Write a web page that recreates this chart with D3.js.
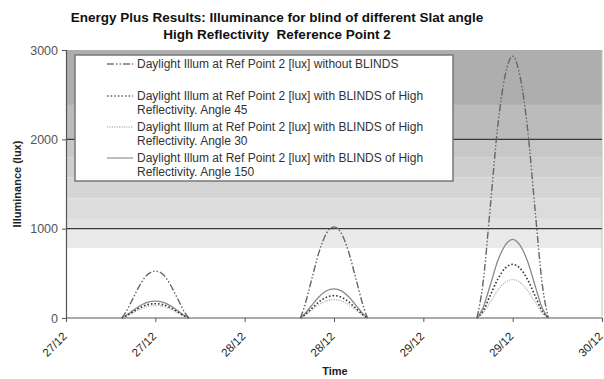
<!DOCTYPE html>
<html>
<head>
<meta charset="utf-8">
<script src="https://cdn.jsdelivr.net/npm/d3@7"></script>
<style>
    body { margin: 0; background: #fff; }
    svg { display: block; font-family: "Liberation Sans", Arial, sans-serif; }
    .tick-label { fill: #333; }
    .legend-label { font-size: 12px; fill: #333; }
</style>
</head>
<body>
<div id="dataChart"></div>
<script>
// day start dates and the hours each day's readings are plotted at
const days = ['2023-12-27', '2023-12-28', '2023-12-29']
const dayHours = [
    [7.5, 8, 9, 10, 11, 12, 13, 14, 15, 16, 16.5],
    [7.5, 8, 9, 10, 11, 12, 13, 14, 15, 16, 16.5],
    [7.2, 8, 9, 10, 11, 12, 13, 14, 15, 16, 16.8],
]

// illuminance [lux] per day
const withoutBlinds = [
    [0, 60, 220, 380, 490, 525, 490, 375, 215, 55, 0],
    [0, 120, 430, 740, 950, 1020, 945, 730, 420, 115, 0],
    [0, 380, 1250, 2150, 2720, 2930, 2700, 2120, 1220, 360, 0],
]
const angle45 = [
    [0, 20, 70, 118, 150, 160, 150, 116, 68, 18, 0],
    [0, 30, 105, 182, 233, 250, 232, 180, 103, 28, 0],
    [0, 75, 255, 435, 558, 600, 555, 432, 250, 72, 0],
]
const angle30 = [
    [0, 18, 60, 102, 130, 140, 131, 100, 58, 16, 0],
    [0, 25, 88, 150, 192, 206, 191, 148, 86, 24, 0],
    [0, 55, 180, 312, 400, 430, 398, 308, 178, 52, 0],
]
const angle150 = [
    [0, 25, 85, 140, 178, 190, 178, 138, 82, 22, 0],
    [0, 40, 140, 238, 305, 326, 303, 235, 136, 38, 0],
    [0, 110, 370, 640, 815, 880, 812, 635, 365, 105, 0],
]

const yTicks = [0, 1000, 2000, 3000]

// gradient fill bands of the plot area (upper edge, lux), white below the last one
const bandTops = [3000, 2385, 2000, 1800, 1575, 1340, 1110, 1000, 780]
const bandColours = ['#aeaeae', '#bbbbbb', '#c7c7c7', '#cecece', '#d5d5d5', '#dcdcdc', '#e2e2e2', '#eaeaea', '#ffffff']

document.addEventListener('DOMContentLoaded', () => {
    draw()
});

function draw() {
    const viewBoxWidth = 604
    const viewBoxHeight = 379
    const left = 66
    const right = 602
    const top = 50
    const bottom = 318

    const svg = d3.select('#dataChart')
        .append('svg')
        .attr('width', viewBoxWidth)
        .attr('height', viewBoxHeight)

    const x = d3.scaleUtc()
        .domain([new Date(Date.UTC(2023, 11, 27)), new Date(Date.UTC(2023, 11, 30))])
        .range([left, right])
    const y = d3.scaleLinear()
        .domain([0, 3000])
        .range([bottom, top])

    // background bands
    svg.append('g')
        .selectAll('rect')
        .data(bandTops)
        .enter()
        .append('rect')
        .attr('x', left)
        .attr('width', right - left)
        .attr('y', d => y(d))
        .attr('height', (d, i) => y(i + 1 < bandTops.length ? bandTops[i + 1] : 0) - y(d))
        .attr('fill', (d, i) => bandColours[i])
    svg.append('line')
        .attr('x1', right).attr('x2', right)
        .attr('y1', top).attr('y2', bottom)
        .attr('stroke', '#c4c4c4')

    // gridlines
    svg.append('g')
        .selectAll('line')
        .data([1000, 2000])
        .enter()
        .append('line')
        .attr('x1', left).attr('x2', right)
        .attr('y1', d => y(d)).attr('y2', d => y(d))
        .attr('stroke', '#3a3a3a')
        .attr('stroke-width', 1.2)

    // series
    const series = [
        { name: 'Daylight Illum at Ref Point 2 [lux] without BLINDS', values: withoutBlinds, colour: '#666', legendColour: '#777', dash: '7,2,1.5,2,1.5,2', width: 1.4 },
        { name: 'Daylight Illum at Ref Point 2 [lux] with BLINDS of High|Reflectivity. Angle 45', values: angle45, colour: '#3a3a3a', legendColour: '#666', dash: '1.6,2', width: 1.6 },
        { name: 'Daylight Illum at Ref Point 2 [lux] with BLINDS of High|Reflectivity. Angle 30', values: angle30, colour: '#b8b8b8', legendColour: '#bbb', dash: '1.2,1.2', width: 1.4 },
        { name: 'Daylight Illum at Ref Point 2 [lux] with BLINDS of High|Reflectivity. Angle 150', values: angle150, colour: '#8a8a8a', legendColour: '#999', dash: null, width: 1.3 },
    ]

    const line = d3.line()
        .x(d => x(d.time))
        .y(d => y(d.value))
        .curve(d3.curveMonotoneX)

    svg.append('line')
        .attr('x1', left).attr('x2', right)
        .attr('y1', bottom).attr('y2', bottom)
        .attr('stroke', '#aaa')
        .attr('stroke-width', 2)

    const plotLines = svg.append('g')
    for (const s of [...series].reverse()) {
        days.forEach((day, di) => {
            const base = new Date(day + 'T00:00:00Z')
            const points = dayHours[di].map((h, i) => ({
                time: new Date(base.getTime() + h * 3600 * 1000),
                value: s.values[di][i]
            }))
            plotLines.append('path')
                .datum(points)
                .attr('d', line)
                .attr('fill', 'none')
                .attr('stroke', s.colour)
                .attr('stroke-width', s.width)
                .attr('stroke-dasharray', s.dash)
        })
    }

    // y axis
    const yAxis = svg.append('g')
        .attr('transform', `translate(${left},0)`)
        .call(d3.axisLeft(y).tickValues(yTicks).tickSize(4).tickFormat(d3.format('d')))
    yAxis.select('.domain').attr('stroke', '#555').attr('stroke-width', 1.2)
    yAxis.selectAll('.tick line').attr('stroke', '#555')
    yAxis.selectAll('text')
        .attr('class', 'tick-label')
        .attr('x', -8)
        .style('font-size', '12.5px')
        .style('fill', '#555')

    // x axis
    const xTickValues = d3.range(0, 7).map(i => new Date(Date.UTC(2023, 11, 27) + i * 12 * 3600 * 1000))
    const xAxis = svg.append('g')
        .attr('transform', `translate(0,${bottom})`)
        .call(d3.axisBottom(x).tickValues(xTickValues).tickSize(4).tickFormat(d3.utcFormat('%d/%m')))
    xAxis.select('.domain').remove()
    xAxis.selectAll('.tick line').attr('stroke', '#555')
    xAxis.selectAll('text')
        .attr('class', 'tick-label')
        .style('font-size', '11.5px')
        .style('fill', '#222')
        .attr('text-anchor', 'end')
        .attr('transform', 'translate(-5,13) rotate(-45)')
        .attr('x', 0)
        .attr('y', 0)
        .attr('dy', '0.75em')

    // legend
    const legend = svg.append('g').attr('id', 'legend')
    legend.append('rect')
        .attr('x', 75).attr('y', 55)
        .attr('width', 378).attr('height', 126)
        .attr('fill', '#fff')
        .attr('stroke', '#777')
        .attr('stroke-width', 1.5)
    const legendRows = [64, 96, 127, 158]
    series.forEach((s, i) => {
        const yy = legendRows[i]
        legend.append('line')
            .attr('x1', 107).attr('x2', 133)
            .attr('y1', yy).attr('y2', yy)
            .attr('stroke', s.legendColour)
            .attr('stroke-width', s.width)
            .attr('stroke-dasharray', s.dash)
        s.name.split('|').forEach((part, j) => {
            legend.append('text')
                .attr('class', 'legend-label')
                .attr('x', 137)
                .attr('y', yy + j * 13.5)
                .attr('dy', '0.35em')
                .text(part)
        })
    })

    // titles
    svg.append('text')
        .attr('x', 277).attr('y', 22)
        .attr('text-anchor', 'middle')
        .style('font-weight', 'bold').style('font-size', '13.5px').style('fill', '#111')
        .text('Energy Plus Results: Illuminance for blind of different Slat angle')
    svg.append('text')
        .attr('x', 277).attr('y', 39)
        .attr('text-anchor', 'middle')
        .style('font-weight', 'bold').style('font-size', '13.5px').style('fill', '#111')
        .style('white-space', 'pre')
        .text('High Reflectivity  Reference Point 2')
    svg.append('text')
        .attr('transform', 'translate(21,184) rotate(-90)')
        .attr('text-anchor', 'middle')
        .style('font-weight', 'bold').style('font-size', '11px').style('fill', '#222')
        .text('Illuminance (lux)')
    svg.append('text')
        .attr('x', 335).attr('y', 375)
        .attr('text-anchor', 'middle')
        .style('font-weight', 'bold').style('font-size', '11px').style('fill', '#222')
        .text('Time')
}
</script>
</body>
</html>
